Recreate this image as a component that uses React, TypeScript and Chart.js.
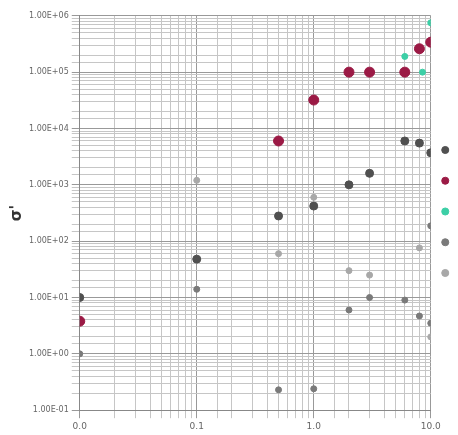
import React, { useEffect, useRef } from "react";
import { Chart, registerables } from "chart.js";

Chart.register(...registerables);

const seriesNames = ["A", "B", "C", "D", "E"];
const seriesColors = ["#505050", "#9b1a45", "#3ccfa6", "#7a7a7a", "#a8a8a8"];
const seriesRadius = [4, 5, 3, 3, 3];

const aX = [0.01, 0.1, 0.5, 1, 2, 3, 6, 8, 10];
const aY = [10, 48, 280, 420, 1000, 1600, 6000, 5500, 3700];

const bX = [0.01, 0.5, 1, 2, 3, 6, 8, 10];
const bY = [3.8, 6000, 32000, 100000, 100000, 100000, 260000, 340000];

const cX = [6, 8.5, 10];
const cY = [190000, 100000, 750000];

const dX = [0.01, 0.1, 0.5, 1, 2, 3, 6, 8, 10, 10];
const dY = [1, 14, 0.23, 0.24, 6, 10, 9, 4.7, 3.5, 187];

const eX = [0.1, 0.5, 1, 2, 3, 8, 10];
const eY = [1200, 60, 600, 30, 25, 76, 2];

const xTicks = [0.01, 0.1, 1, 10];
const xTickLabels = ["0.0", "0.1", "1.0", "10.0"];

function pts(xs: number[], ys: number[]) {
  return xs.map((x, i) => ({ x, y: ys[i] }));
}

const gridColor = (ctx: any) => {
  const v = ctx.tick ? ctx.tick.value : 0;
  const l = Math.log10(v);
  return Math.abs(l - Math.round(l)) < 1e-6 ? "#999" : "#c6c6c6";
};

export default function App() {
  const ref = useRef<HTMLCanvasElement>(null);
  useEffect(() => {
    if (!ref.current) return;
    const data = [pts(aX, aY), pts(bX, bY), pts(cX, cY), pts(dX, dY), pts(eX, eY)];
    const chart = new Chart(ref.current, {
      type: "scatter",
      data: {
        datasets: data.map((d, i) => ({
          label: seriesNames[i],
          data: d,
          backgroundColor: seriesColors[i],
          borderColor: seriesColors[i],
          pointRadius: seriesRadius[i],
          pointHoverRadius: seriesRadius[i],
        })),
      },
      options: {
        animation: false,
        responsive: false,
        layout: { padding: { top: 0, right: 0, left: 0, bottom: 0 } },
        plugins: {
          tooltip: { enabled: false },
          legend: {
            position: "right",
            align: "start",
            title: {
              display: true,
              text: " ",
              font: { size: 12, lineHeight: 1 },
              padding: { top: 0, bottom: 112 },
            },
            labels: {
              usePointStyle: true,
              boxWidth: 5,
              boxHeight: 5,
              padding: 12,
              font: { size: 12, family: "DejaVu Sans", lineHeight: 18.75 / 12 },
              color: "#444",
              generateLabels: (c: any) => {
                const items = Chart.defaults.plugins.legend.labels.generateLabels(c);
                return items.map((it: any) => ({ ...it, text: [it.text] }));
              },
            },
          },
        },
        scales: {
          x: {
            type: "logarithmic",
            min: 0.01,
            max: 10,
            border: { color: "#888" },
            grid: { color: gridColor },
            ticks: {
              autoSkip: false,
              maxRotation: 0,
              font: { size: 9, family: "DejaVu Sans" },
              color: "#666",
              callback: (v: any) => {
                const idx = xTicks.findIndex((t) => Math.abs(t - Number(v)) / t < 1e-6);
                return idx >= 0 ? xTickLabels[idx] : "";
              },
            },
          },
          y: {
            type: "logarithmic",
            min: 0.1,
            max: 1000000,
            border: { color: "#888" },
            title: {
              display: true,
              text: "σ'",
              padding: { top: 0, bottom: 0 },
              font: { size: 15, weight: "bold", family: "DejaVu Sans" },
              color: "#333",
            },
            grid: { color: gridColor },
            ticks: {
              autoSkip: false,
              font: { size: 8, family: "DejaVu Sans" },
              color: "#666",
              callback: (v: any) => {
                const n = Number(v);
                const l = Math.log10(n);
                if (Math.abs(l - Math.round(l)) > 1e-6) return "";
                const e = Math.round(l);
                const s = (e < 0 ? "-" : "+") + String(Math.abs(e)).padStart(2, "0");
                return "1.00E" + s;
              },
            },
          },
        },
      },
    });
    return () => chart.destroy();
  }, []);
  return (
    <div style={{ width: 450, height: 427, overflow: "hidden" }}>
      <canvas ref={ref} width={465} height={427} style={{ display: "block" }} />
    </div>
  );
}
